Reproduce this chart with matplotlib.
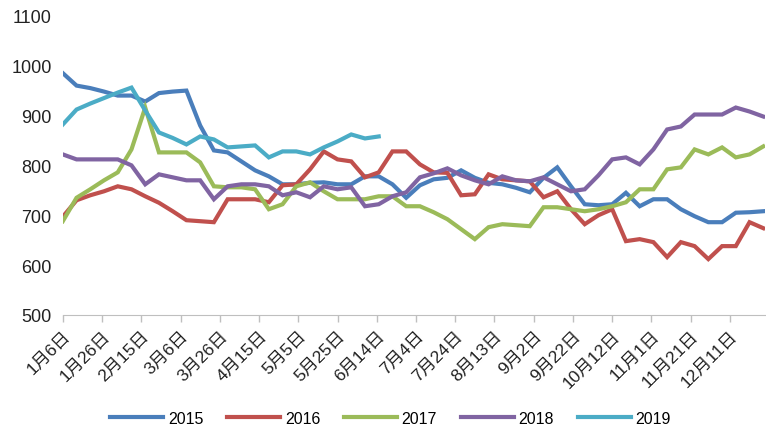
import numpy as np
import matplotlib
matplotlib.use("Agg")
import matplotlib.pyplot as plt

plt.rcParams['font.family'] = ['Liberation Sans', 'Noto Sans CJK SC', 'DejaVu Sans']

# weekly readings, first week = 1月6日
y2015 = [985, 960, 955, 948, 940, 940, 928, 945, 948, 950,
         880, 830, 826, 808, 790, 778, 762, 762, 765, 766,
         762, 762, 778, 778, 762, 735, 760, 772, 775, 790,
         775, 765, 762, 755, 746, 775, 796, 758, 722, 720,
         722, 745, 718, 732, 732, 712, 698, 686, 686, 705,
         706, 708]
y2016 = [697, 730, 740, 748, 758, 752, 738, 725, 708, 690,
         688, 686, 732, 732, 732, 726, 760, 762, 792, 828,
         812, 808, 776, 786, 828, 828, 802, 786, 785, 740,
         742, 782, 772, 770, 768, 736, 748, 712, 682, 700,
         712, 648, 652, 646, 616, 646, 638, 612, 638, 638,
         686, 674]
y2017 = [688, 735, 752, 770, 786, 832, 916, 826, 826, 826,
         806, 758, 756, 756, 752, 712, 722, 758, 766, 748,
         732, 732, 732, 738, 738, 718, 718, 706, 692, 672,
         652, 676, 682, 680, 678, 716, 716, 712, 708, 712,
         718, 726, 752, 752, 792, 796, 832, 822, 836, 816,
         822, 838]
y2018 = [822, 812, 812, 812, 812, 800, 762, 782, 776, 770,
         770, 732, 758, 762, 762, 758, 740, 746, 736, 758,
         752, 756, 718, 722, 738, 746, 776, 784, 794, 780,
         770, 762, 778, 770, 768, 776, 762, 748, 752, 780,
         812, 816, 802, 832, 872, 878, 902, 902, 902, 916,
         908, 898]
y2019 = [882, 912, 924, 935, 946, 956, 910, 866, 855, 842,
         858, 852, 836, 838, 840, 816, 828, 828, 822, 836,
         848, 862, 854, 858]

years = ['2015', '2016', '2017', '2018', '2019']
series = [y2015, y2016, y2017, y2018, y2019]
colors = ['#4a7ebb', '#c0504d', '#9bbb59', '#8064a2', '#4bacc6']

tick_labels = ['1月6日', '1月26日', '2月15日', '3月6日', '3月26日', '4月15日',
               '5月5日', '5月25日', '6月14日', '7月4日', '7月24日', '8月13日',
               '9月2日', '9月22日', '10月12日', '11月1日', '11月21日', '12月11日']

fig = plt.figure(figsize=(7.66, 4.31), dpi=100)
ax = fig.add_axes([0.082, 0.267, 0.917, 0.694])

for name, vals, c in zip(years, series, colors):
    days = np.arange(len(vals)) * 7
    ax.plot(days, vals, color=c, lw=3.0, label=name, solid_joinstyle='miter')

ax.set_xlim(0, 358)
ax.set_ylim(500, 1100)
ax.set_yticks(np.arange(500, 1101, 100))
ax.set_xticks(np.arange(len(tick_labels)) * 20)
ax.set_xticklabels(tick_labels, rotation=45, ha='right', va='top',
                   rotation_mode='anchor', fontsize=12.5)
ax.tick_params(axis='y', length=0, labelsize=13, pad=8, labelcolor='#222222')
ax.tick_params(axis='x', length=5, color='#bfbfbf', width=1, pad=4,
               labelcolor='#222222')

for s in ['top', 'right', 'left']:
    ax.spines[s].set_visible(False)
ax.spines['bottom'].set_color('#bfbfbf')

fig.legend(loc='center', bbox_to_anchor=(0.51, 0.027), ncol=5, frameon=False,
           fontsize=11.5, handlelength=3.3, columnspacing=1.5, handletextpad=0.3)

fig.savefig('out.png', dpi=100)
